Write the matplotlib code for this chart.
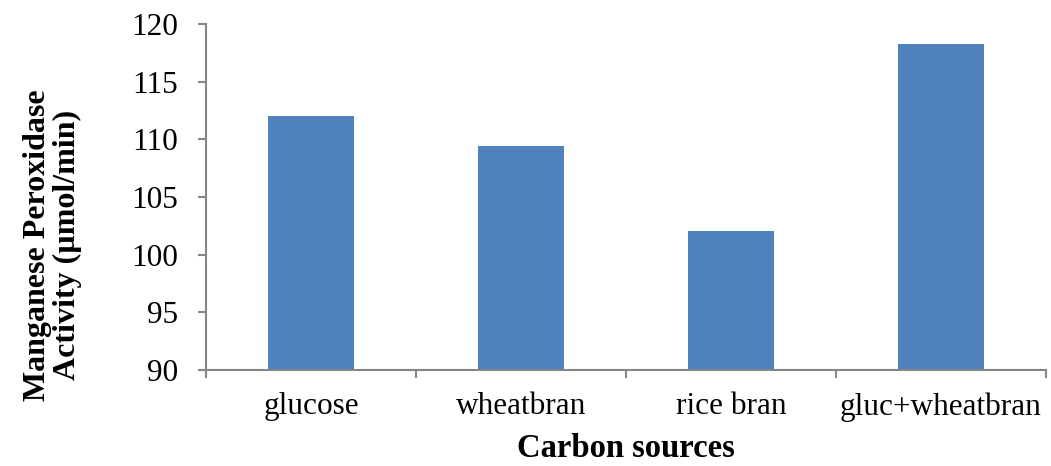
import matplotlib.pyplot as plt
import numpy as np
from matplotlib.ticker import FixedLocator

plt.rcParams["font.family"] = ["Liberation Serif", "DejaVu Serif"]

carbon_sources = ["glucose", "wheatbran", "rice bran", "gluc+wheatbran"]
mnp_activity = [112.0, 109.4, 102.1, 118.3]
y_ticks = [90, 95, 100, 105, 110, 115, 120]

axis_color = "#868686"
bar_color = "#4F81BD"

fig = plt.figure(figsize=(10.51, 4.66), dpi=100)
ax = fig.add_axes([0.196, 0.206, 0.799, 0.742])

x = np.arange(len(carbon_sources))
ax.bar(x, np.array(mnp_activity) - 90, bottom=90, width=0.41, color=bar_color)

ax.set_xlim(-0.5, len(carbon_sources) - 0.5)
ax.set_ylim(90, 120)
ax.set_yticks(y_ticks)
ax.set_xticks(x)
ax.set_xticklabels(carbon_sources)
ax.xaxis.set_minor_locator(FixedLocator(np.arange(-0.5, len(carbon_sources), 1.0)))

for side in ["top", "right"]:
    ax.spines[side].set_visible(False)
for side in ["left", "bottom"]:
    ax.spines[side].set_color(axis_color)
    ax.spines[side].set_linewidth(1.5)

ax.tick_params(axis="x", which="major", length=0, pad=16, labelsize=22.5)
ax.tick_params(axis="x", which="minor", length=6, width=1.5, color=axis_color,
               direction="out")
ax.tick_params(axis="y", length=6, width=1.5, color=axis_color, pad=14,
               labelsize=22.5)

ax.set_xlabel("Carbon sources", fontsize=23.5, fontweight="bold")
ax.xaxis.set_label_coords(0.5, -0.182)
ax.set_ylabel("Manganese Peroxidase\nActivity (µmol/min)", fontsize=23,
              fontweight="bold", linespacing=1.05)
ax.yaxis.set_label_coords(-0.148, 0.361)

fig.savefig("out.png", dpi=100)
